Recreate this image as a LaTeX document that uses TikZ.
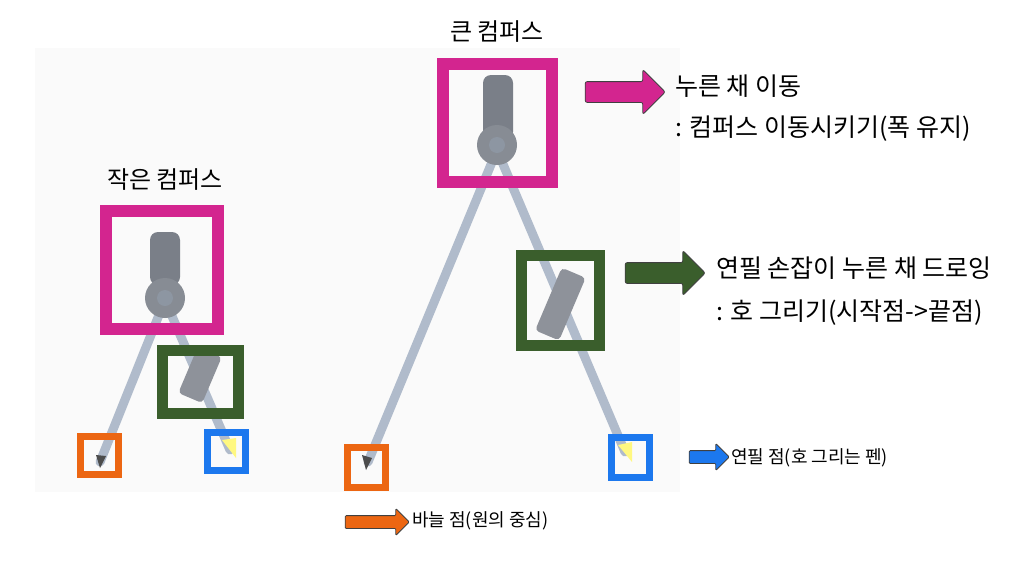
\documentclass[tikz,border=0pt]{standalone}
\usepackage{fontspec}
\setmainfont{Noto Sans CJK KR}
\usetikzlibrary{positioning,shapes.arrows}
\definecolor{magbox}{HTML}{D3258F}
\definecolor{grnbox}{HTML}{3A5E2C}
\definecolor{orgbox}{HTML}{EC6612}
\definecolor{blubox}{HTML}{1C78EE}
\definecolor{legcol}{HTML}{B0BBCB}
\definecolor{headcol}{HTML}{7A7F88}
\begin{document}
\begin{tikzpicture}[x=1pt,y=-1pt,
    mbox/.style={draw=magbox, line width=12pt},
    gbox/.style={draw=grnbox, line width=11pt},
    obox/.style={draw=orgbox, line width=7pt},
    bbox/.style={draw=blubox, line width=7pt},
    leg/.style={draw=legcol, line width=9pt, line cap=round},
    grip/.style={fill=headcol!85, rounded corners=4pt},
    barrow/.style={single arrow, draw=black!75, thick, minimum height=#1,
      inner sep=10pt, single arrow head extend=12pt, rounded corners=2pt},
    sarrow/.style={single arrow, draw=black!75, thick, minimum height=#1,
      inner sep=6pt, single arrow head extend=7pt, rounded corners=1pt},
    ttl/.style={font=\fontsize{24}{28}\selectfont},
    lbl/.style={font=\fontsize{25}{30}\selectfont, anchor=west, inner sep=0pt},
    slbl/.style={font=\fontsize{18}{22}\selectfont, anchor=west, inner sep=0pt}
]
  \useasboundingbox (0,0) rectangle (1024,568);
  \fill[white] (0,0) rectangle (1024,568);
  \fill[black!2] (35,48) rectangle (680,492);

  % big compass
  \draw[leg] (497,150) -- (368,462);
  \draw[leg] (497,150) -- (625,452);
  \fill[grip, rotate around={-23:(560,305)}] (547,270) rectangle (573,338);
  \fill[headcol, rounded corners=8pt] (483,75) rectangle (513,140);
  \fill[headcol!90] (497,145) circle (20pt);
  \fill[legcol!80!black] (497,145) circle (8pt);
  \fill[black!70] (362,455) -- (372,458) -- (366,470) -- cycle;
  \fill[yellow!50] (618,445) -- (632,442) -- (632,462) -- cycle;

  % small compass
  \draw[leg] (165,300) -- (100,462);
  \draw[leg] (165,300) -- (230,450);
  \fill[grip, rotate around={-23:(200,375)}] (187,350) rectangle (213,400);
  \fill[headcol, rounded corners=8pt] (150,232) rectangle (180,285);
  \fill[headcol!90] (165,298) circle (20pt);
  \fill[legcol!80!black] (165,298) circle (8pt);
  \fill[black!70] (96,455) -- (106,456) -- (100,468) -- cycle;
  \fill[yellow!50] (222,440) -- (236,438) -- (236,458) -- cycle;

  % boxes
  \draw[mbox] (443,64) rectangle (552,182);
  \draw[gbox] (521,255) rectangle (599,345);
  \draw[obox] (347,447) rectangle (385,487);
  \draw[bbox] (611,437) rectangle (649,477);
  \draw[mbox] (106,211) rectangle (218,329);
  \draw[gbox] (162,350) rectangle (238,413);
  \draw[obox] (80,436) rectangle (118,474);
  \draw[bbox] (207,432) rectangle (245,470);

  % titles
  \node[ttl] (bigtitle) at (497,32) {큰 컴퍼스};
  \node[ttl] (smalltitle) at (165,180) {작은 컴퍼스};

  % callouts
  \node[barrow=80pt, fill=magbox] (marrow) at (620,92) {};
  \node[lbl] (mtext1) at (675,86) {누른 채 이동};
  \node[lbl] (mtext2) at (675,129) {: 컴퍼스 이동시키기(폭 유지)};
  \node[barrow=80pt, fill=grnbox] (garrow) at (660,273) {};
  \node[lbl] (gtext1) at (716,268) {연필 손잡이 누른 채 드로잉};
  \node[lbl] (gtext2) at (716,313) {: 호 그리기(시작점->끝점)};
  \node[sarrow=40pt, fill=blubox] (barrow1) at (706,457) {};
  \node[slbl] (btext) at (731,458) {연필 점(호 그리는 펜)};
  \node[sarrow=64pt, fill=orgbox] (oarrow) at (374,522) {};
  \node[slbl] (otext) at (412,521) {바늘 점(원의 중심)};
\end{tikzpicture}
\end{document}
